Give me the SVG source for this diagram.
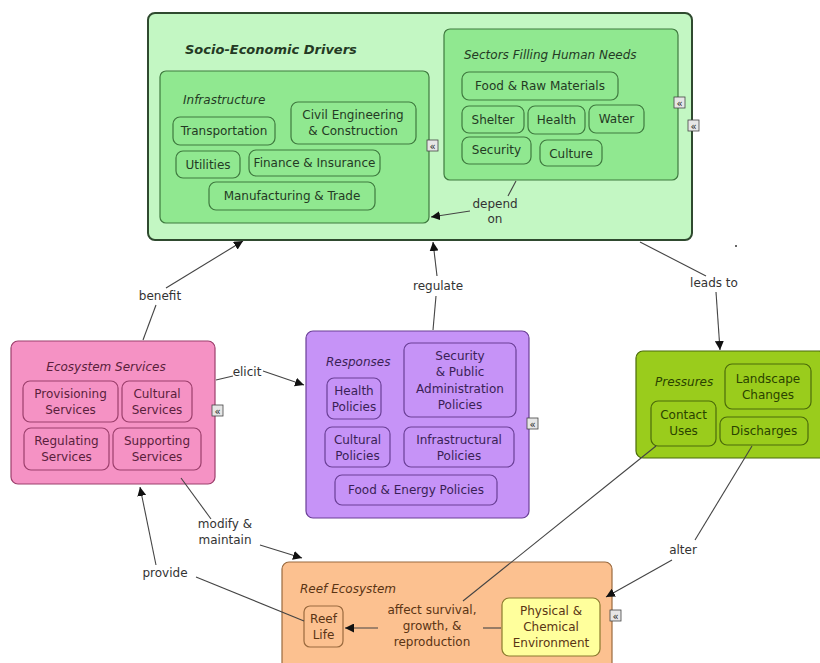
<svg xmlns="http://www.w3.org/2000/svg" width="820" height="663" viewBox="0 0 820 663">
<defs>
<marker id="ah" viewBox="0 0 10 10" refX="10" refY="5" markerWidth="9" markerHeight="9" markerUnits="userSpaceOnUse" orient="auto">
<path d="M0,0 L10,5 L0,10 z" fill="#111"/>
</marker>
<style>
text{font-family:"DejaVu Sans","Liberation Sans",sans-serif;font-size:12px;}
.c{text-anchor:middle;}
.it{font-style:italic;}
.lbl{fill:#333;}
.ln{fill:none;stroke:#444;stroke-width:1.1;}
.arr{marker-end:url(#ah);}
.g1{fill:#c3f7c3;stroke:#2f4a2f;stroke-width:2;}
.g2{fill:#90e890;stroke:#3f7a3f;stroke-width:1.2;}
.gt{fill:#243a24;}
.p1{fill:#f592c4;stroke:#9c3f6c;stroke-width:1.2;}
.pt{fill:#5a1f3c;}
.v1{fill:#c693f7;stroke:#6a3f96;stroke-width:1.2;}
.vt{fill:#3a1f56;}
.y1{fill:#9acc1c;stroke:#4b6b0a;stroke-width:1.2;}
.yt{fill:#2a4300;}
.o1{fill:#fcc190;stroke:#9a6a3e;stroke-width:1.2;}
.ot{fill:#5a3414;}
.pe{fill:#ffff9c;stroke:#8a7a2e;stroke-width:1.2;}
.mk{fill:#e6e6e6;stroke:#444;stroke-width:0.8;}
.mkt{font-size:10px;fill:#222;text-anchor:middle;}
</style>
</defs>

<g id="socio-economic-drivers">
<rect class="g1" x="148" y="13" width="544" height="227" rx="7"/>
<text class="gt it" x="185" y="54" style="font-weight:bold;font-size:13px">Socio-Economic Drivers</text>
<rect class="mk" x="688" y="120" width="11" height="11"/>
<text class="mkt" x="693.5" y="129.5">«</text>
</g>

<g id="infrastructure">
<rect class="g2" x="160" y="71" width="269" height="152" rx="6"/>
<text class="gt it" x="183" y="104">Infrastructure</text>
<rect class="mk" x="427" y="140" width="11" height="11"/>
<text class="mkt" x="432.5" y="149.5">«</text>
</g>
<g id="transportation"><rect class="g2" x="173" y="117" width="102" height="28" rx="7"/><text class="gt c" x="224" y="135">Transportation</text></g>
<g id="civil-engineering"><rect class="g2" x="291" y="102" width="125" height="42" rx="7"/><text class="gt c" x="353" y="119">Civil Engineering</text><text class="gt c" x="353" y="135">&amp; Construction</text></g>
<g id="utilities"><rect class="g2" x="176" y="151" width="64" height="27" rx="7"/><text class="gt c" x="208" y="169">Utilities</text></g>
<g id="finance"><rect class="g2" x="249" y="150" width="131" height="26" rx="7"/><text class="gt c" x="314.5" y="167">Finance &amp; Insurance</text></g>
<g id="manufacturing"><rect class="g2" x="209" y="182" width="166" height="28" rx="7"/><text class="gt c" x="292" y="200">Manufacturing &amp; Trade</text></g>

<g id="sectors">
<rect class="g2" x="444" y="29" width="234" height="151" rx="6"/>
<text class="gt it" x="464" y="59">Sectors Filling Human Needs</text>
<rect class="mk" x="674" y="97" width="11" height="11"/>
<text class="mkt" x="679.5" y="106.5">«</text>
</g>
<g id="food-raw"><rect class="g2" x="462" y="72" width="156" height="28" rx="7"/><text class="gt c" x="540" y="90">Food &amp; Raw Materials</text></g>
<g id="shelter"><rect class="g2" x="462" y="106" width="62" height="27" rx="7"/><text class="gt c" x="493" y="124">Shelter</text></g>
<g id="health"><rect class="g2" x="528" y="106" width="57" height="28" rx="7"/><text class="gt c" x="556.5" y="124">Health</text></g>
<g id="water"><rect class="g2" x="589" y="105" width="55" height="28" rx="7"/><text class="gt c" x="616.5" y="123">Water</text></g>
<g id="security"><rect class="g2" x="462" y="137" width="69" height="27" rx="7"/><text class="gt c" x="496.5" y="154">Security</text></g>
<g id="culture"><rect class="g2" x="540" y="140" width="62" height="26" rx="7"/><text class="gt c" x="571" y="158">Culture</text></g>

<g id="ecosystem-services">
<rect class="p1" x="11" y="341" width="204" height="143" rx="7"/>
<text class="pt it c" x="106" y="371">Ecosystem Services</text>
<rect class="mk" x="212" y="405" width="11" height="11"/>
<text class="mkt" x="217.5" y="414.5">«</text>
</g>
<g id="provisioning"><rect class="p1" x="23" y="381" width="95" height="41" rx="7"/><text class="pt c" x="70.5" y="398">Provisioning</text><text class="pt c" x="70.5" y="414">Services</text></g>
<g id="cultural-services"><rect class="p1" x="122" y="381" width="70" height="41" rx="7"/><text class="pt c" x="157" y="398">Cultural</text><text class="pt c" x="157" y="414">Services</text></g>
<g id="regulating"><rect class="p1" x="24" y="428" width="85" height="42" rx="7"/><text class="pt c" x="66.5" y="445">Regulating</text><text class="pt c" x="66.5" y="461">Services</text></g>
<g id="supporting"><rect class="p1" x="113" y="428" width="88" height="42" rx="7"/><text class="pt c" x="157" y="445">Supporting</text><text class="pt c" x="157" y="461">Services</text></g>

<g id="responses">
<rect class="v1" x="306" y="331" width="223" height="187" rx="7"/>
<text class="vt it" x="326" y="366">Responses</text>
<rect class="mk" x="527" y="418" width="11" height="11"/>
<text class="mkt" x="532.5" y="427.5">«</text>
</g>
<g id="health-policies"><rect class="v1" x="327" y="378" width="54" height="41" rx="7"/><text class="vt c" x="354" y="395">Health</text><text class="vt c" x="354" y="411">Policies</text></g>
<g id="security-policies"><rect class="v1" x="404" y="343" width="112" height="74" rx="7"/><text class="vt c" x="460" y="360">Security</text><text class="vt c" x="460" y="376">&amp; Public</text><text class="vt c" x="460" y="393">Administration</text><text class="vt c" x="460" y="409">Policies</text></g>
<g id="cultural-policies"><rect class="v1" x="325" y="427" width="65" height="40" rx="7"/><text class="vt c" x="357.5" y="444">Cultural</text><text class="vt c" x="357.5" y="460">Policies</text></g>
<g id="infrastructural-policies"><rect class="v1" x="404" y="427" width="110" height="40" rx="7"/><text class="vt c" x="459" y="444">Infrastructural</text><text class="vt c" x="459" y="460">Policies</text></g>
<g id="food-energy"><rect class="v1" x="335" y="475" width="162" height="30" rx="7"/><text class="vt c" x="416" y="494">Food &amp; Energy Policies</text></g>

<g id="pressures">
<rect class="y1" x="636" y="351" width="190" height="107" rx="7"/>
<text class="yt it" x="655" y="386">Pressures</text>
</g>
<g id="landscape"><rect class="y1" x="725" y="364" width="86" height="45" rx="7"/><text class="yt c" x="768" y="383">Landscape</text><text class="yt c" x="768" y="399">Changes</text></g>
<g id="contact-uses"><rect class="y1" x="651" y="401" width="65" height="45" rx="7"/><text class="yt c" x="683.5" y="419">Contact</text><text class="yt c" x="683.5" y="435">Uses</text></g>
<g id="discharges"><rect class="y1" x="720" y="417" width="88" height="28" rx="7"/><text class="yt c" x="764" y="435">Discharges</text></g>

<g id="reef-ecosystem">
<rect class="o1" x="282" y="562" width="330" height="110" rx="7"/>
<text class="ot it" x="300" y="593">Reef Ecosystem</text>
<rect class="mk" x="610" y="610" width="11" height="11"/>
<text class="mkt" x="615.5" y="619.5">«</text>
</g>
<g id="reef-life"><rect class="o1" x="304" y="606" width="39" height="41" rx="6"/><text class="ot c" x="323.5" y="623">Reef</text><text class="ot c" x="323.5" y="639">Life</text></g>
<g id="physical-chemical"><rect class="pe" x="502" y="598" width="98" height="58" rx="7"/><text class="ot c" x="551" y="615">Physical &amp;</text><text class="ot c" x="551" y="631">Chemical</text><text class="ot c" x="551" y="647">Environment</text></g>

<circle cx="736" cy="246" r="1" fill="#333"/>

<g id="connectors">
<!-- depend on -->
<path class="ln" d="M516,181 L508,196"/>
<path class="ln arr" d="M470,211 L431,217"/>
<!-- benefit -->
<path class="ln" d="M143,340 L156,305"/>
<path class="ln arr" d="M166,288 L243,241"/>
<!-- regulate -->
<path class="ln" d="M433,330 L436,296"/>
<path class="ln arr" d="M437,276 L433,242"/>
<!-- leads to -->
<path class="ln" d="M640,242 L706,276"/>
<path class="ln arr" d="M716,292 L720,350"/>
<!-- elicit -->
<path class="ln" d="M216,380 L233,376"/>
<path class="ln arr" d="M263,371 L304,385"/>
<!-- modify & maintain -->
<path class="ln" d="M181,478 L211,519"/>
<path class="ln arr" d="M260,545 L302,558"/>
<!-- provide -->
<path class="ln" d="M304,621 L196,577"/>
<path class="ln arr" d="M156,565 L140,487"/>
<!-- alter -->
<path class="ln" d="M752,446 L695,540"/>
<path class="ln arr" d="M672,560 L606,597"/>
<!-- contact uses to linking phrase -->
<path class="ln" d="M656,446 L463,601"/>
<!-- affect survival -->
<path class="ln" d="M501,628 L483,628"/>
<path class="ln arr" d="M378,628 L345,628"/>
</g>

<g id="labels">
<text class="lbl c" x="495" y="208">depend</text>
<text class="lbl c" x="495" y="223">on</text>
<text class="lbl c" x="160" y="300">benefit</text>
<text class="lbl c" x="438" y="290">regulate</text>
<text class="lbl c" x="714" y="287">leads to</text>
<text class="lbl c" x="247" y="376">elicit</text>
<text class="lbl c" x="225" y="528">modify &amp;</text>
<text class="lbl c" x="225" y="544">maintain</text>
<text class="lbl c" x="165" y="577">provide</text>
<text class="lbl c" x="683" y="554">alter</text>
<text class="ot c" x="432" y="614">affect survival,</text>
<text class="ot c" x="432" y="630">growth, &amp;</text>
<text class="ot c" x="432" y="646">reproduction</text>
</g>
</svg>
